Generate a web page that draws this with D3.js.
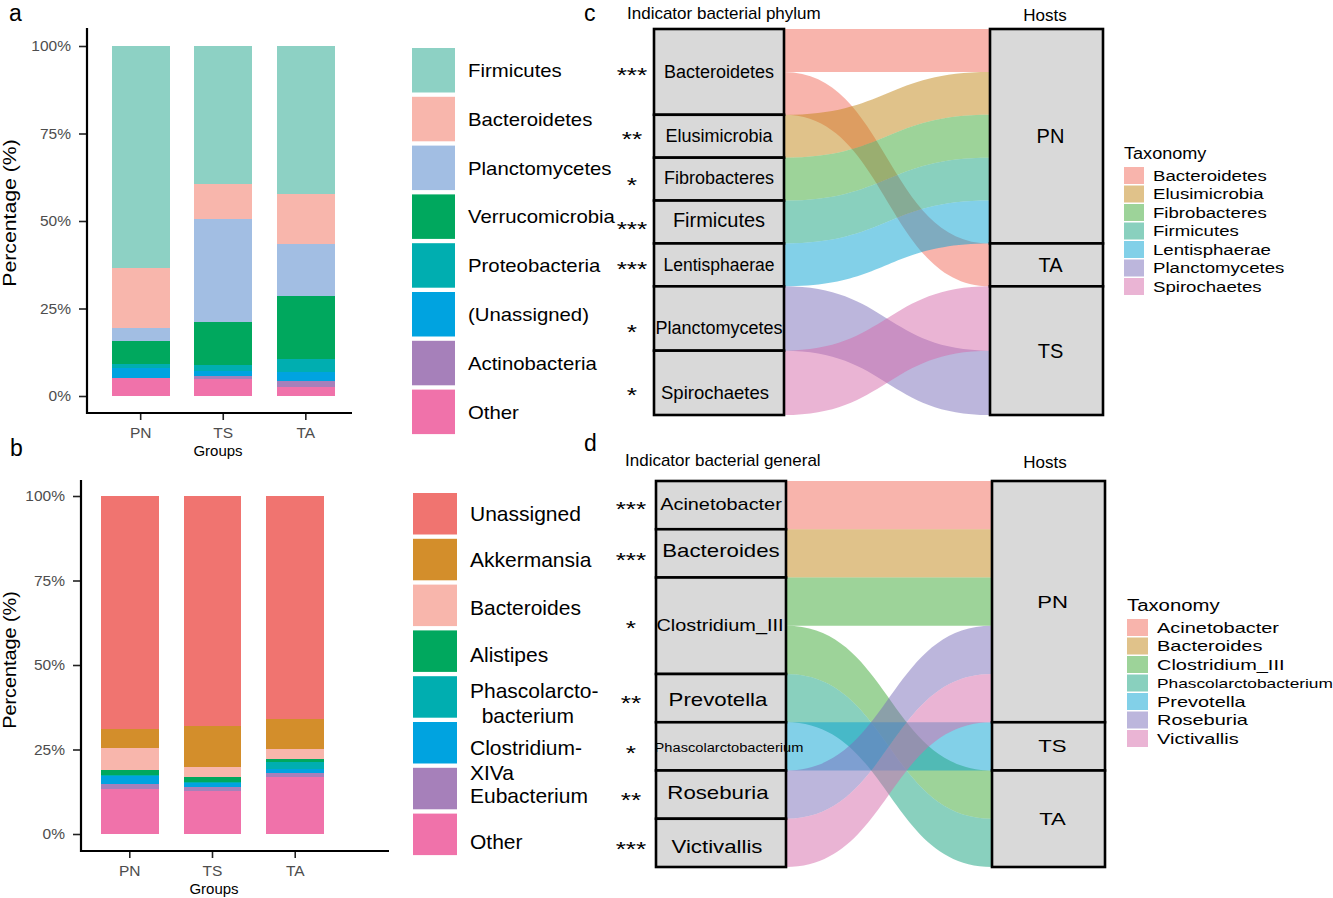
<!DOCTYPE html>
<html>
<head>
<meta charset="utf-8">
<script src="https://cdnjs.cloudflare.com/ajax/libs/d3/7.8.5/d3.min.js"></script>
<style>
  body { margin: 0; background: #fff; }
  text { font-family: "Liberation Sans", Arial, Helvetica, sans-serif; }
</style>
</head>
<body>
<div id="chart"></div>
<script>
// ---------- data ----------
const groups = ["PN", "TS", "TA"];

// panel a: phylum composition (%), top of stack first
const phyla = ["Firmicutes", "Bacteroidetes", "Planctomycetes", "Verrucomicrobia",
  "Proteobacteria", "(Unassigned)", "Actinobacteria", "Other"];
const phylumPN = [63.3, 17.2, 3.9, 6.4, 1.1, 2.9, 0.0, 5.2];
const phylumTS = [39.5, 10.0, 29.3, 12.4, 1.7, 1.3, 1.0, 4.8];
const phylumTA = [42.3, 14.3, 14.8, 18.1, 3.6, 2.7, 1.7, 2.5];
const phylumColors = ["#8dd1c4", "#f8b6ac", "#a2bee3", "#00a85e", "#00aeb0", "#00a3e0", "#a680ba", "#f072aa"];

// panel b: genus composition (%)
const genera = ["Unassigned", "Akkermansia", "Bacteroides", "Alistipes",
  "Phascolarctobacterium", "Clostridium-XIVa", "Eubacterium", "Other"];
const genusLegend = [["Unassigned"], ["Akkermansia"], ["Bacteroides"], ["Alistipes"],
  ["Phascolarcto-", "  bacterium"], ["Clostridium-", "XIVa"], ["Eubacterium"], ["Other"]];
const genusPN = [68.9, 5.7, 6.6, 1.3, 0.3, 2.4, 1.5, 13.3];
const genusTS = [67.9, 12.3, 3.0, 1.4, 0.2, 1.2, 1.3, 12.7];
const genusTA = [66.0, 8.9, 2.9, 0.8, 2.2, 1.3, 1.1, 16.8];
const genusColors = ["#f07470", "#d38e2b", "#f8b6ac", "#00a85e", "#00aeb0", "#00a3e0", "#a680ba", "#f072aa"];

// panel c: indicator phyla -> hosts
const phylumStrata = ["Bacteroidetes", "Elusimicrobia", "Fibrobacteres", "Firmicutes",
  "Lentisphaerae", "Planctomycetes", "Spirochaetes"];
const phylumSizes = [2, 1, 1, 1, 1, 1.5, 1.5];
const phylumStars = ["***", "**", "*", "***", "***", "*", "*"];
const hostsC = ["PN", "TA", "TS"];
const hostSizesC = [5, 1, 3];
const flowTaxaC = ["Bacteroidetes", "Bacteroidetes", "Elusimicrobia", "Fibrobacteres",
  "Firmicutes", "Lentisphaerae", "Planctomycetes", "Spirochaetes"];
const flowHostsC = ["PN", "TA", "PN", "PN", "PN", "PN", "TS", "TS"];
const flowSizesC = [1, 1, 1, 1, 1, 1, 1.5, 1.5];
const flowOrderC = [0, 2, 3, 4, 5, 1, 7, 6]; // stacking order on the host side

// panel d: indicator genera -> hosts
const genusStrata = ["Acinetobacter", "Bacteroides", "Clostridium_III", "Prevotella",
  "Phascolarctobacterium", "Roseburia", "Victivallis"];
const genusSizes = [1, 1, 2, 1, 1, 1, 1];
const genusStars = ["***", "***", "*", "**", "*", "**", "***"];
const hostsD = ["PN", "TS", "TA"];
const hostSizesD = [5, 1, 2];
const taxonomyD = ["Acinetobacter", "Bacteroides", "Clostridium_III", "Phascolarctobacterium",
  "Prevotella", "Roseburia", "Victivallis"];
const flowTaxaD = ["Acinetobacter", "Bacteroides", "Clostridium_III", "Clostridium_III",
  "Phascolarctobacterium", "Prevotella", "Roseburia", "Victivallis"];
const flowHostsD = ["PN", "PN", "PN", "TA", "TA", "TS", "PN", "PN"];
const flowSizesD = [1, 1, 1, 1, 1, 1, 1, 1];
const flowOrderD = [0, 1, 2, 6, 7, 5, 3, 4];

const taxColors = ["#f16959", "#c18515", "#3ba733", "#13a17d", "#05a1d1", "#796db9", "#d569a9"];

// ---------- drawing ----------
const svg = d3.select("#chart").append("svg")
  .attr("width", 1333).attr("height", 898);

// squeeze/stretch text horizontally like the source figure
function stretch(sel, k) {
  sel.each(function () {
    if (k === 1) return;
    const w = this.getComputedTextLength();
    d3.select(this).attr("textLength", w * k).attr("lengthAdjust", "spacingAndGlyphs");
  });
}

function drawBars(cfg) {
  const g = svg.append("g");
  const rows = groups.map((grp, i) => {
    const r = { group: grp };
    cfg.keys.forEach((k, j) => r[k] = cfg.values[i][j]);
    return r;
  });
  const series = d3.stack().keys(cfg.keys.slice().reverse())(rows);
  const x = d3.scaleBand().domain(groups).range(cfg.xRange).paddingInner(0.3).paddingOuter(0.3);
  const y = d3.scaleLinear().domain([0, 100]).range(cfg.yRange);
  const color = d3.scaleOrdinal(cfg.keys, cfg.colors);

  g.selectAll("g.layer").data(series).join("g")
    .attr("fill", d => color(d.key))
    .selectAll("rect").data(d => d).join("rect")
    .attr("x", d => x(d.data.group))
    .attr("width", x.bandwidth())
    .attr("y", d => y(d[1]))
    .attr("height", d => y(d[0]) - y(d[1]))
    .attr("shape-rendering", "crispEdges");

  const yAxis = g.append("g").attr("transform", `translate(${cfg.axisX},0)`)
    .call(d3.axisLeft(y).tickValues([0, 25, 50, 75, 100]).tickFormat(d => d + "%")
      .tickSize(8).tickPadding(8));
  const xAxis = g.append("g").attr("transform", `translate(0,${cfg.axisY})`)
    .call(d3.axisBottom(x).tickSize(7).tickPadding(7));
  [yAxis, xAxis].forEach(a => {
    a.select(".domain").remove();
    a.selectAll("line").attr("stroke", "#222").attr("stroke-width", 1.6);
    a.selectAll("text").attr("fill", "#4d4d4d").attr("font-size", 15.5)
      .attr("font-family", null);
  });

  g.append("path")
    .attr("d", `M${cfg.axisX},${cfg.axisTop}V${cfg.axisY}H${cfg.axisRight}`)
    .attr("fill", "none").attr("stroke", "#000").attr("stroke-width", 2.2);

  g.append("text").attr("x", cfg.groupsX).attr("y", cfg.axisY + 43)
    .attr("text-anchor", "middle").attr("font-size", 15).text("Groups");

  g.append("text")
    .attr("transform", `translate(16,${cfg.titleY}) rotate(-90)`)
    .attr("text-anchor", "middle").attr("font-size", 18).text("Percentage (%)")
    .call(stretch, cfg.titleStretch);

  // legend
  const lg = g.append("g");
  cfg.legend.forEach((lines, i) => {
    const top = cfg.legTop + i * cfg.legStep;
    lg.append("rect").attr("x", cfg.legX).attr("y", top)
      .attr("width", cfg.legW).attr("height", cfg.legH).attr("fill", color(cfg.keys[i]));
    const cy = top + cfg.legH / 2 + cfg.legNudge[i];
    lines.forEach((line, j) => {
      lg.append("text")
        .attr("x", cfg.legX + cfg.legW + 13)
        .attr("y", cy + (j - (lines.length - 1) / 2) * cfg.legLine)
        .attr("dy", "0.35em").attr("font-size", cfg.legFont)
        .style("white-space", "pre").text(line)
        .call(stretch, cfg.legStretch);
    });
  });
}

function drawAlluvial(cfg) {
  const g = svg.append("g");
  const y = d3.scaleLinear().domain([0, d3.sum(cfg.sizes)]).range(cfg.yRange);
  const color = d3.scaleOrdinal(cfg.taxonomy, taxColors);

  let acc = 0;
  const left = cfg.strata.map((name, i) => {
    const s = { name, y0: acc, y1: acc + cfg.sizes[i] };
    acc += cfg.sizes[i];
    return s;
  });
  acc = 0;
  const right = cfg.hosts.map((name, i) => {
    const s = { name, y0: acc, y1: acc + cfg.hostSizes[i] };
    acc += cfg.hostSizes[i];
    return s;
  });

  acc = 0;
  const flows = cfg.flowTaxa.map((t, i) => {
    const f = { taxon: t, host: cfg.flowHosts[i], size: cfg.flowSizes[i], l0: acc };
    acc += f.size;
    f.l1 = acc;
    return f;
  });
  const hostPos = {};
  right.forEach(r => hostPos[r.name] = r.y0);
  cfg.flowOrder.forEach(i => {
    const f = flows[i];
    f.r0 = hostPos[f.host];
    f.r1 = f.r0 + f.size;
    hostPos[f.host] = f.r1;
  });

  const xl = cfg.leftX[1], xr = cfg.rightX[0], xm = (xl + xr) / 2;
  const flowPath = f => `M${xl},${y(f.l0)}C${xm},${y(f.l0)} ${xm},${y(f.r0)} ${xr},${y(f.r0)}` +
    `L${xr},${y(f.r1)}C${xm},${y(f.r1)} ${xm},${y(f.l1)} ${xl},${y(f.l1)}Z`;

  g.selectAll("path.flow").data(flows).join("path")
    .attr("class", "flow")
    .attr("d", flowPath)
    .attr("fill", d => color(d.taxon))
    .attr("fill-opacity", 0.5);

  // strata boxes
  const boxes = [...left.map(s => ({ ...s, x: cfg.leftX })), ...right.map(s => ({ ...s, x: cfg.rightX }))];
  g.selectAll("rect.stratum").data(boxes).join("rect")
    .attr("class", "stratum")
    .attr("x", d => d.x[0]).attr("width", d => d.x[1] - d.x[0])
    .attr("y", d => y(d.y0)).attr("height", d => y(d.y1) - y(d.y0))
    .attr("fill", "#d9d9d9").attr("stroke", "#000").attr("stroke-width", 2.6);

  left.forEach((s, i) => {
    const cy = (y(s.y0) + y(s.y1)) / 2;
    g.append("text").attr("x", (cfg.leftX[0] + cfg.leftX[1]) / 2 + cfg.labelDx[i])
      .attr("y", cy + cfg.labelNudge[i]).attr("dy", "0.35em")
      .attr("text-anchor", "middle").attr("font-size", cfg.labelSizes[i])
      .text(s.name).call(stretch, cfg.labelStretch);
    g.append("text").attr("x", cfg.starX).attr("y", cy + cfg.starNudge[i])
      .attr("dy", "0.44em").attr("text-anchor", "middle").attr("font-size", 21)
      .text(cfg.stars[i]).call(stretch, 1.25);
  });
  right.forEach(s => {
    g.append("text").attr("x", (cfg.rightX[0] + cfg.rightX[1]) / 2 + 4)
      .attr("y", (y(s.y0) + y(s.y1)) / 2).attr("dy", "0.35em")
      .attr("text-anchor", "middle").attr("font-size", cfg.hostFont)
      .text(s.name).call(stretch, cfg.hostStretch);
  });

  g.append("text").attr("x", cfg.titleX).attr("y", cfg.titleY).attr("font-size", 17).text(cfg.title);
  g.append("text").attr("x", 1045).attr("y", cfg.titleY + 1.5).attr("text-anchor", "middle")
    .attr("font-size", 17).text("Hosts");

  // legend
  const lg = g.append("g");
  lg.append("text").attr("x", cfg.legX).attr("y", cfg.legTop - 8).attr("font-size", 16)
    .text("Taxonomy").call(stretch, cfg.legTitleStretch);
  cfg.taxonomy.forEach((t, i) => {
    const top = cfg.legTop + i * 18.5;
    lg.append("rect").attr("x", cfg.legX).attr("y", top).attr("width", cfg.legSwatch).attr("height", 17)
      .attr("fill", color(t)).attr("fill-opacity", 0.5);
    lg.append("text").attr("x", cfg.legX + cfg.legSwatch + 9).attr("y", top + 8.5).attr("dy", "0.35em")
      .attr("font-size", t === "Phascolarctobacterium" ? cfg.legFont - 2 : cfg.legFont)
      .text(t).call(stretch, cfg.legStretch);
  });
}

drawBars({
  keys: phyla, values: [phylumPN, phylumTS, phylumTA], colors: phylumColors,
  xRange: [87, 359.5], yRange: [396, 46],
  axisX: 87, axisY: 413, axisTop: 28, axisRight: 352, groupsX: 218, titleY: 213, titleStretch: 1.18,
  legend: phyla.map(p => [p]), legX: 412, legTop: 48, legStep: 48.8, legW: 43, legH: 44.5,
  legFont: 19, legStretch: 1.07, legLine: 25, legNudge: [0, 0, 0, 0, 0, 0, 0, 0]
});

drawBars({
  keys: genera, values: [genusPN, genusTS, genusTA], colors: genusColors,
  xRange: [76, 349], yRange: [834, 496],
  axisX: 81, axisY: 851, axisTop: 480, axisRight: 389, groupsX: 214, titleY: 660, titleStretch: 1.1,
  legend: genusLegend, legX: 413, legTop: 493, legStep: 45.8, legW: 44, legH: 41.5,
  legFont: 21, legStretch: 1, legLine: 25, legNudge: [0, 0, 2, 3, 6, 17, 7, 7]
});

drawAlluvial({
  strata: phylumStrata, sizes: phylumSizes, stars: phylumStars,
  hosts: hostsC, hostSizes: hostSizesC, taxonomy: phylumStrata,
  flowTaxa: flowTaxaC, flowHosts: flowHostsC, flowSizes: flowSizesC, flowOrder: flowOrderC,
  leftX: [654, 784], rightX: [990, 1103], yRange: [29, 415],
  labelSizes: [18, 18, 18, 20, 17.5, 18, 18.5], labelStretch: 1,
  labelDx: [0, 0, 0, 0, 0, 0, -4],
  labelNudge: [0, -1, -1, -2, 0, 9, 10], starNudge: [1, 1, 4, 5, 2, 11, 10], starX: 632,
  hostFont: 20, hostStretch: 1,
  title: "Indicator bacterial phylum", titleX: 627, titleY: 19,
  legX: 1124, legTop: 167, legSwatch: 20, legFont: 15.5, legStretch: 1.2, legTitleStretch: 1.13
});

drawAlluvial({
  strata: genusStrata, sizes: genusSizes, stars: genusStars,
  hosts: hostsD, hostSizes: hostSizesD, taxonomy: taxonomyD,
  flowTaxa: flowTaxaD, flowHosts: flowHostsD, flowSizes: flowSizesD, flowOrder: flowOrderD,
  leftX: [656, 786], rightX: [992, 1105], yRange: [481, 867],
  labelSizes: [17, 19, 17, 19, 12.5, 19, 19], labelStretch: 1.17,
  labelDx: [0, 0, -1, -3, 8, -3, -4],
  labelNudge: [-1, -3, -1, 1, 1, -2, 3], starNudge: [2, 4, 0, 3, 4, 3, 4], starX: 631,
  hostFont: 17, hostStretch: 1.3,
  title: "Indicator bacterial general", titleX: 625, titleY: 466,
  legX: 1127, legTop: 619, legSwatch: 21, legFont: 15, legStretch: 1.33, legTitleStretch: 1.27
});

// panel letters
[["a", 9, 21], ["b", 10, 456], ["c", 584, 21], ["d", 584, 451]].forEach(([t, x, yy]) => {
  svg.append("text").attr("x", x).attr("y", yy).attr("font-size", 23).text(t);
});
</script>
</body>
</html>
